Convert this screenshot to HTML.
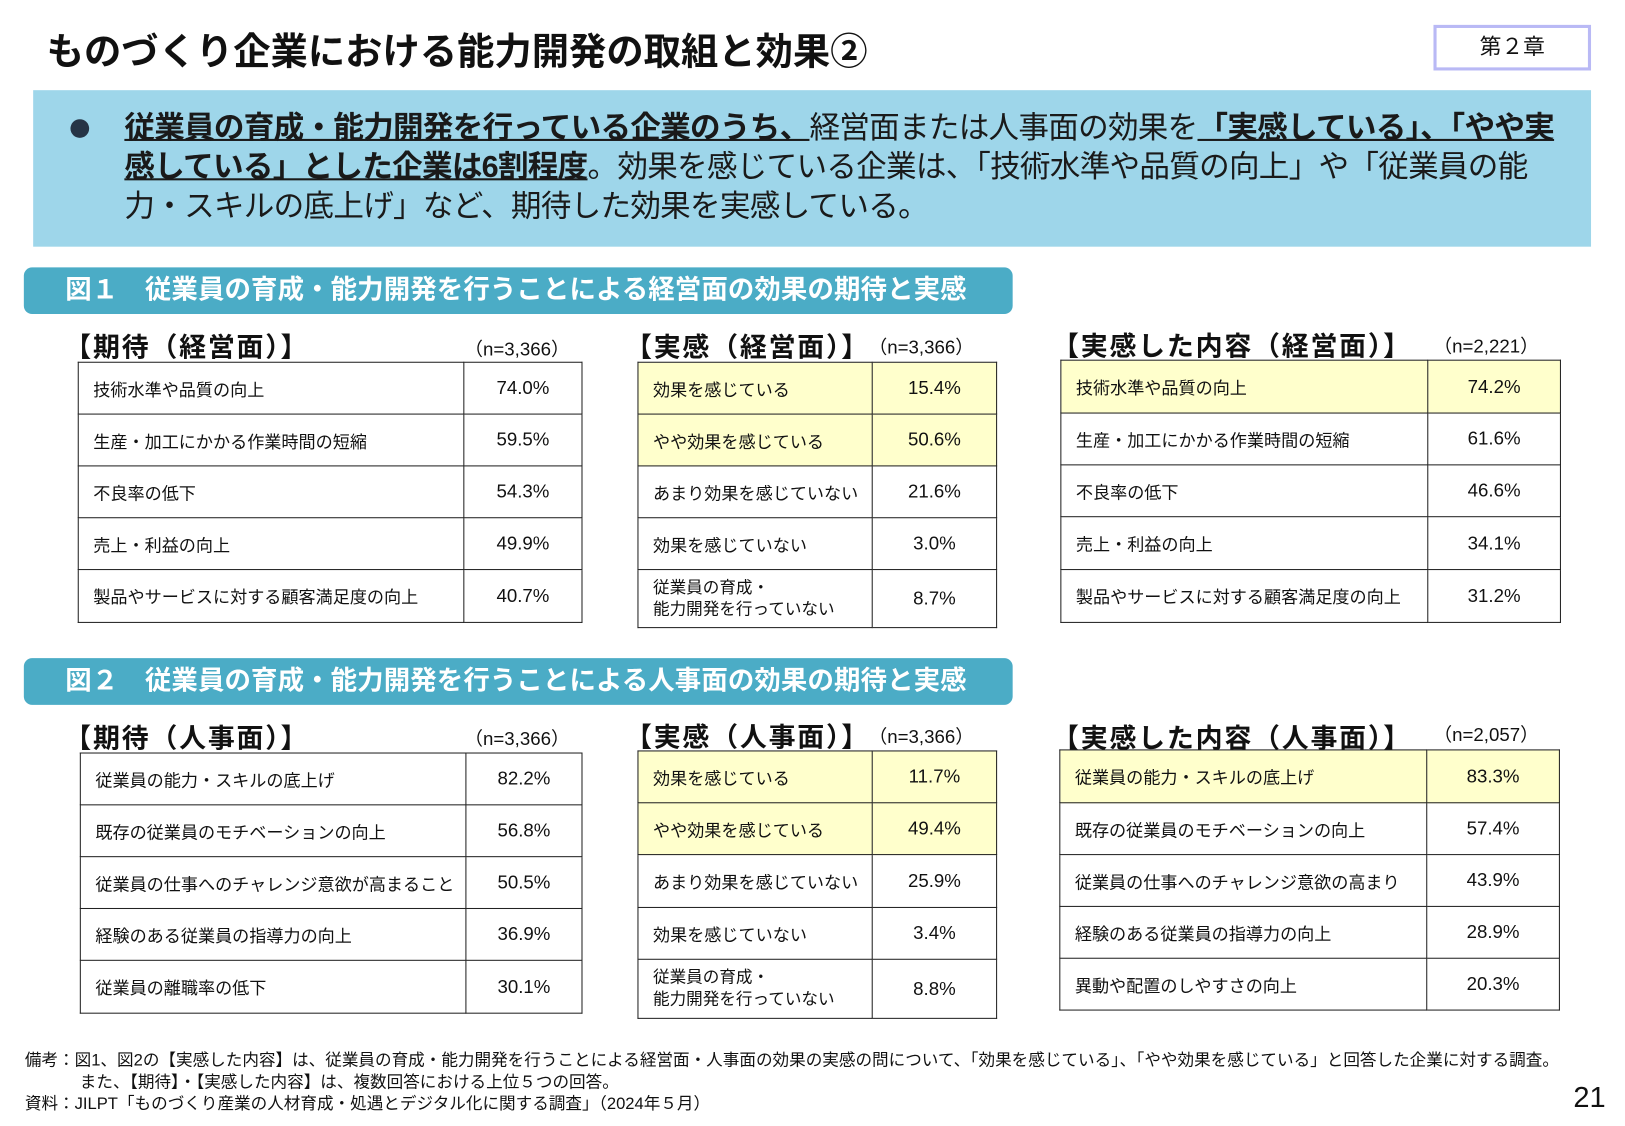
<!DOCTYPE html>
<html><head><meta charset="utf-8">
<style>
html,body{margin:0;padding:0;background:#fff;}
body{width:1625px;height:1125px;overflow:hidden;position:relative;}
#w{position:absolute;left:0;top:0;width:1568px;height:1086px;transform:scale(1.0365);transform-origin:0 0;font-family:"Liberation Sans","Noto Sans CJK JP",sans-serif;color:#111;}
.a{position:absolute;white-space:nowrap;}
.title{left:45px;top:21px;font-size:36px;font-weight:bold;letter-spacing:0px;}
.chap{left:1383px;top:24px;width:152px;height:44px;border:3px solid #b9b9f5;box-sizing:border-box;text-align:center;font-size:21px;line-height:38px;}
.box{left:32px;top:87px;width:1503px;height:151px;background:#9ed6ea;}
.bl{position:absolute;left:88px;font-size:29.5px;line-height:38px;white-space:nowrap;color:#1a1a1a;letter-spacing:-0.7px;}
.bl b{text-decoration:underline;text-decoration-thickness:2px;}
.dot{position:absolute;left:36px;top:28px;width:18px;height:18px;border-radius:50%;background:#263445;}
.bar{left:23px;width:954px;height:45px;background:#4bacc6;border-radius:8px;color:#fff;font-weight:bold;font-size:25.5px;line-height:45px;letter-spacing:0.1px;}
.bar span{position:absolute;left:40px;}
.h{font-size:26px;font-weight:bold;letter-spacing:1.7px;}
.n{font-size:18px;}
table{position:absolute;border-collapse:collapse;font-size:16.5px;}
td{border:1.5px solid #222;padding:0;}
td.l{padding-left:14px;text-align:left;}
td.v{text-align:center;font-size:18px;}
tr.y td{background:#ffffcc;}
td.s{line-height:21px;font-size:16px;}
.foot{font-size:16px;left:24px;}
</style></head><body><div id="w">
<div class="a title">ものづくり企業における能力開発の取組と効果②</div>
<div class="a chap">第２章</div>
<div class="a box">
 <div class="dot"></div>
 <div class="bl" style="top:18px"><b>従業員の育成・能力開発を行っている企業のうち、</b>経営面または人事面の効果を<b>「実感している」、「やや実</b></div>
 <div class="bl" style="top:56px"><b>感している」とした企業は6割程度</b>。効果を感じている企業は、「技術水準や品質の向上」や「従業員の能</div>
 <div class="bl" style="top:94px">力・スキルの底上げ」など、期待した効果を実感している。</div>
</div>

<div class="a bar" style="top:258px"><span>図１　従業員の育成・能力開発を行うことによる経営面の効果の期待と実感</span></div>
<div class="a bar" style="top:635px"><span>図２　従業員の育成・能力開発を行うことによる人事面の効果の期待と実感</span></div>

<div class="a h" style="left:62px;top:315px">【期待（経営面）】</div>
<div class="a n" style="left:448px;top:323px">（n=3,366）</div>
<div class="a h" style="left:603px;top:315px">【実感（経営面）】</div>
<div class="a n" style="left:838px;top:321px">（n=3,366）</div>
<div class="a h" style="left:1015px;top:314px">【実感した内容（経営面）】</div>
<div class="a n" style="left:1383px;top:320px">（n=2,221）</div>

<table style="left:75px;top:349px;width:487px;">
<tr style="height:50px"><td class="l" style="width:357px">技術水準や品質の向上</td><td class="v">74.0%</td></tr>
<tr style="height:50px"><td class="l">生産・加工にかかる作業時間の短縮</td><td class="v">59.5%</td></tr>
<tr style="height:50px"><td class="l">不良率の低下</td><td class="v">54.3%</td></tr>
<tr style="height:50px"><td class="l">売上・利益の向上</td><td class="v">49.9%</td></tr>
<tr style="height:51px"><td class="l">製品やサービスに対する顧客満足度の向上</td><td class="v">40.7%</td></tr>
</table>

<table style="left:615px;top:349px;width:347px;">
<tr class="y" style="height:50px"><td class="l" style="width:211px">効果を感じている</td><td class="v">15.4%</td></tr>
<tr class="y" style="height:50px"><td class="l">やや効果を感じている</td><td class="v">50.6%</td></tr>
<tr style="height:50px"><td class="l">あまり効果を感じていない</td><td class="v">21.6%</td></tr>
<tr style="height:50px"><td class="l">効果を感じていない</td><td class="v">3.0%</td></tr>
<tr style="height:56px"><td class="l s">従業員の育成・<br>能力開発を行っていない</td><td class="v">8.7%</td></tr>
</table>

<table style="left:1023px;top:347px;width:483px;">
<tr class="y" style="height:51px"><td class="l" style="width:339px">技術水準や品質の向上</td><td class="v">74.2%</td></tr>
<tr style="height:50px"><td class="l">生産・加工にかかる作業時間の短縮</td><td class="v">61.6%</td></tr>
<tr style="height:50px"><td class="l">不良率の低下</td><td class="v">46.6%</td></tr>
<tr style="height:51px"><td class="l">売上・利益の向上</td><td class="v">34.1%</td></tr>
<tr style="height:51px"><td class="l">製品やサービスに対する顧客満足度の向上</td><td class="v">31.2%</td></tr>
</table>

<div class="a h" style="left:62px;top:692px">【期待（人事面）】</div>
<div class="a n" style="left:448px;top:699px">（n=3,366）</div>
<div class="a h" style="left:603px;top:691px">【実感（人事面）】</div>
<div class="a n" style="left:838px;top:697px">（n=3,366）</div>
<div class="a h" style="left:1015px;top:692px">【実感した内容（人事面）】</div>
<div class="a n" style="left:1383px;top:695px">（n=2,057）</div>

<table style="left:77px;top:726px;width:485px;">
<tr style="height:50px"><td class="l" style="width:357px">従業員の能力・スキルの底上げ</td><td class="v">82.2%</td></tr>
<tr style="height:50px"><td class="l">既存の従業員のモチベーションの向上</td><td class="v">56.8%</td></tr>
<tr style="height:50px"><td class="l">従業員の仕事へのチャレンジ意欲が高まること</td><td class="v">50.5%</td></tr>
<tr style="height:50px"><td class="l">経験のある従業員の指導力の向上</td><td class="v">36.9%</td></tr>
<tr style="height:51px"><td class="l">従業員の離職率の低下</td><td class="v">30.1%</td></tr>
</table>

<table style="left:615px;top:724px;width:347px;">
<tr class="y" style="height:50px"><td class="l" style="width:211px">効果を感じている</td><td class="v">11.7%</td></tr>
<tr class="y" style="height:50px"><td class="l">やや効果を感じている</td><td class="v">49.4%</td></tr>
<tr style="height:51px"><td class="l">あまり効果を感じていない</td><td class="v">25.9%</td></tr>
<tr style="height:50px"><td class="l">効果を感じていない</td><td class="v">3.4%</td></tr>
<tr style="height:57px"><td class="l s">従業員の育成・<br>能力開発を行っていない</td><td class="v">8.8%</td></tr>
</table>

<table style="left:1022px;top:723px;width:483px;">
<tr class="y" style="height:51px"><td class="l" style="width:339px">従業員の能力・スキルの底上げ</td><td class="v">83.3%</td></tr>
<tr style="height:50px"><td class="l">既存の従業員のモチベーションの向上</td><td class="v">57.4%</td></tr>
<tr style="height:50px"><td class="l">従業員の仕事へのチャレンジ意欲の高まり</td><td class="v">43.9%</td></tr>
<tr style="height:50px"><td class="l">経験のある従業員の指導力の向上</td><td class="v">28.9%</td></tr>
<tr style="height:50px"><td class="l">異動や配置のしやすさの向上</td><td class="v">20.3%</td></tr>
</table>

<div class="a foot" style="top:1009px">備考：図1、図2の【実感した内容】は、従業員の育成・能力開発を行うことによる経営面・人事面の効果の実感の問について、「効果を感じている」、「やや効果を感じている」と回答した企業に対する調査。</div>
<div class="a foot" style="top:1030px;left:77px">また、【期待】・【実感した内容】は、複数回答における上位５つの回答。</div>
<div class="a foot" style="top:1051px">資料：JILPT「ものづくり産業の人材育成・処遇とデジタル化に関する調査」（2024年５月）</div>
<div class="a" style="left:1518px;top:1043px;font-size:28px;">21</div>
</div></body></html>
